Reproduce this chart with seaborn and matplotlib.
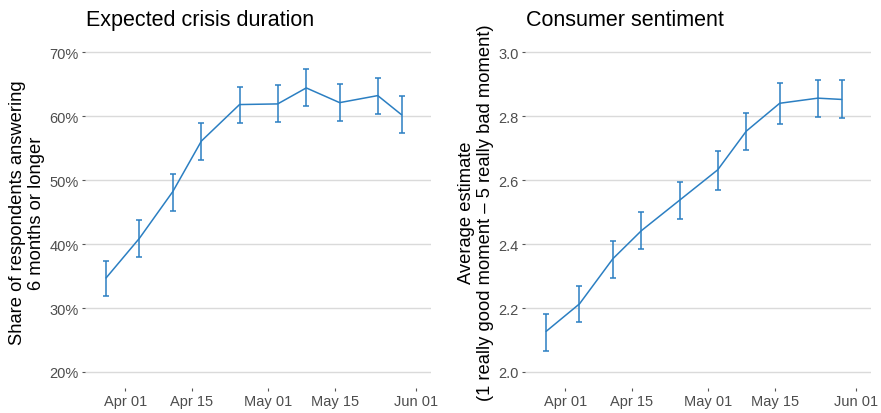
import numpy as np
import pandas as pd
import seaborn as sns
import matplotlib.pyplot as plt
import matplotlib.dates as mdates
from matplotlib.ticker import FuncFormatter

# survey waves
dates = pd.to_datetime(["2020-03-28", "2020-04-04", "2020-04-11", "2020-04-17", "2020-04-25",
                        "2020-05-03", "2020-05-09", "2020-05-16", "2020-05-24", "2020-05-29"])

# expected crisis duration (share answering 6 months or longer)
dur_mean = [0.347, 0.409, 0.482, 0.561, 0.618, 0.619, 0.644, 0.621, 0.632, 0.602]
dur_lo = [0.319, 0.380, 0.452, 0.531, 0.589, 0.591, 0.616, 0.593, 0.603, 0.573]
dur_hi = [0.373, 0.437, 0.510, 0.589, 0.646, 0.648, 0.673, 0.650, 0.660, 0.631]

# consumer sentiment (average estimate)
sent_mean = [2.127, 2.213, 2.354, 2.442, 2.537, 2.632, 2.753, 2.840, 2.856, 2.852]
sent_lo = [2.066, 2.156, 2.295, 2.385, 2.478, 2.568, 2.695, 2.775, 2.798, 2.794]
sent_hi = [2.182, 2.270, 2.410, 2.500, 2.593, 2.690, 2.810, 2.904, 2.913, 2.912]

df_dur = pd.DataFrame({"date": dates, "mean": dur_mean, "lo": dur_lo, "hi": dur_hi})
df_sent = pd.DataFrame({"date": dates, "mean": sent_mean, "lo": sent_lo, "hi": sent_hi})

sns.set_theme(style="white")
plt.rcParams["font.family"] = ["Liberation Sans", "DejaVu Sans"]

blue = "#2B7FC2"
grey_txt = "#4D4D4D"

fig = plt.figure(figsize=(8.81, 4.14), dpi=100)
ax1 = fig.add_axes([0.0965, 0.0604, 0.3927, 0.850])
ax2 = fig.add_axes([0.596, 0.0604, 0.3927, 0.850])


def draw(ax, d, title, ylabel, ylim, yticks, fmt):
    sns.lineplot(data=d, x="date", y="mean", ax=ax, color=blue, linewidth=1.1)
    ax.errorbar(d["date"], d["mean"],
                yerr=[d["mean"] - d["lo"], d["hi"] - d["mean"]],
                fmt="none", ecolor=blue, elinewidth=1.1, capsize=2.2, capthick=1.1)
    ax.set_xlim(pd.Timestamp("2020-03-23 14:00"), pd.Timestamp("2020-06-04 04:00"))
    ax.set_ylim(*ylim)
    ax.set_yticks(yticks)
    ax.yaxis.set_major_formatter(FuncFormatter(fmt))
    ax.set_xticks(pd.to_datetime(["2020-04-01", "2020-04-15", "2020-05-01", "2020-05-15", "2020-06-01"]))
    ax.xaxis.set_major_formatter(mdates.DateFormatter("%b %d"))
    ax.grid(axis="y", color="#DADADA", linewidth=1.0)
    ax.grid(axis="x", visible=False)
    for s in ax.spines.values():
        s.set_visible(False)
    ax.tick_params(axis="both", which="major", length=2.5, width=0.8, color="#555555",
                   labelsize=10.5, labelcolor=grey_txt, pad=2, left=True, bottom=True)
    ax.set_xlabel("")
    ax.set_ylabel(ylabel, fontsize=13.2, color="black", labelpad=3)
    ax.set_title(title, loc="left", fontsize=15.5, color="black", pad=8, x=0.002)


draw(ax1, df_dur, "Expected crisis duration",
     "Share of respondents answering\n6 months or longer",
     (0.175, 0.725), [0.2, 0.3, 0.4, 0.5, 0.6, 0.7],
     lambda v, p: f"{v * 100:.0f}%")
draw(ax2, df_sent, "Consumer sentiment",
     "Average estimate\n(1 really good moment \u2013 5 really bad moment)",
     (1.95, 3.05), [2.0, 2.2, 2.4, 2.6, 2.8, 3.0],
     lambda v, p: f"{v:.1f}")

fig.savefig("out.png", dpi=100)
